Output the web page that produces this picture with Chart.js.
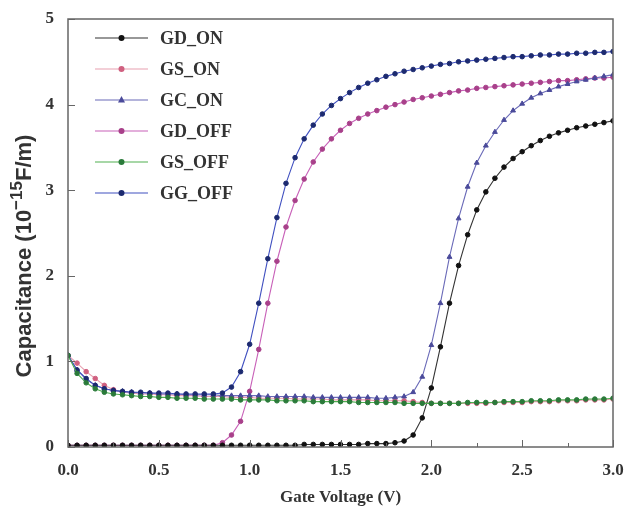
<!DOCTYPE html>
<html>
<head>
<meta charset="utf-8">
<script src="https://cdn.jsdelivr.net/npm/chart.js@4.4.0/dist/chart.umd.min.js"></script>
<style>
  html, body { margin: 0; padding: 0; background: #fff; }
  canvas { display: block; }
</style>
</head>
<body>
<canvas id="c" width="624" height="514"></canvas>
<script>
// ---- Data ----
const gateVoltage = [0.00,0.05,0.10,0.15,0.20,0.25,0.30,0.35,0.40,0.45,0.50,0.55,0.60,0.65,0.70,0.75,0.80,0.85,0.90,0.95,
  1.00,1.05,1.10,1.15,1.20,1.25,1.30,1.35,1.40,1.45,1.50,1.55,1.60,1.65,1.70,1.75,1.80,1.85,1.90,1.95,
  2.00,2.05,2.10,2.15,2.20,2.25,2.30,2.35,2.40,2.45,2.50,2.55,2.60,2.65,2.70,2.75,2.80,2.85,2.90,2.95,3.00];

const GD_ON = [0.02,0.02,0.02,0.02,0.02,0.02,0.02,0.02,0.02,0.02,0.02,0.02,0.02,0.02,0.02,0.02,0.02,0.02,0.02,0.02,
  0.02,0.02,0.02,0.02,0.02,0.02,0.03,0.03,0.03,0.03,0.03,0.03,0.03,0.04,0.04,0.04,0.05,0.07,0.14,0.34,
  0.69,1.17,1.68,2.12,2.48,2.77,2.98,3.14,3.27,3.37,3.45,3.52,3.58,3.63,3.67,3.70,3.73,3.75,3.77,3.79,3.81];

const GS_ON = [1.07,0.98,0.88,0.80,0.72,0.67,0.64,0.63,0.62,0.62,0.61,0.61,0.60,0.60,0.60,0.59,0.59,0.59,0.58,0.58,
  0.58,0.57,0.57,0.57,0.57,0.56,0.56,0.56,0.56,0.55,0.55,0.55,0.55,0.55,0.54,0.54,0.54,0.54,0.53,0.52,
  0.51,0.51,0.51,0.51,0.51,0.51,0.51,0.52,0.52,0.52,0.52,0.53,0.53,0.53,0.54,0.54,0.54,0.55,0.55,0.55,0.56];

const GC_ON = [1.07,0.90,0.79,0.72,0.68,0.66,0.65,0.64,0.63,0.63,0.62,0.62,0.62,0.61,0.61,0.61,0.61,0.60,0.60,0.60,
  0.60,0.60,0.59,0.59,0.59,0.59,0.59,0.58,0.58,0.58,0.58,0.58,0.58,0.58,0.57,0.57,0.58,0.59,0.64,0.82,
  1.19,1.68,2.22,2.67,3.04,3.32,3.52,3.68,3.82,3.93,4.01,4.08,4.13,4.17,4.21,4.24,4.27,4.29,4.31,4.33,4.35];

const GD_OFF = [0.02,0.02,0.02,0.02,0.02,0.02,0.02,0.02,0.02,0.02,0.02,0.02,0.02,0.02,0.02,0.02,0.02,0.05,0.14,0.30,
  0.65,1.14,1.68,2.17,2.57,2.88,3.13,3.33,3.48,3.60,3.70,3.78,3.84,3.89,3.93,3.97,4.00,4.03,4.06,4.08,
  4.10,4.12,4.14,4.16,4.17,4.19,4.20,4.21,4.22,4.23,4.24,4.25,4.26,4.27,4.28,4.28,4.29,4.30,4.31,4.31,4.32];

const GS_OFF = [1.07,0.86,0.75,0.68,0.64,0.62,0.61,0.60,0.59,0.59,0.58,0.58,0.57,0.57,0.57,0.56,0.56,0.56,0.56,0.55,
  0.55,0.55,0.55,0.54,0.54,0.54,0.54,0.53,0.53,0.53,0.53,0.53,0.52,0.52,0.52,0.52,0.52,0.51,0.51,0.51,
  0.51,0.51,0.51,0.51,0.52,0.52,0.52,0.52,0.53,0.53,0.53,0.54,0.54,0.54,0.55,0.55,0.55,0.56,0.56,0.56,0.57];

const GG_OFF = [1.07,0.90,0.80,0.72,0.68,0.66,0.65,0.64,0.64,0.63,0.63,0.63,0.62,0.62,0.62,0.62,0.62,0.63,0.70,0.88,
  1.20,1.68,2.20,2.68,3.08,3.38,3.60,3.76,3.89,3.99,4.07,4.14,4.20,4.25,4.29,4.33,4.36,4.39,4.41,4.43,
  4.45,4.47,4.48,4.50,4.51,4.52,4.53,4.54,4.55,4.56,4.56,4.57,4.58,4.58,4.59,4.59,4.60,4.60,4.61,4.61,4.62];

const seriesNames = ['GD_ON','GS_ON','GC_ON','GD_OFF','GS_OFF','GG_OFF'];
const xTickLabels = ['0.0','0.5','1.0','1.5','2.0','2.5','3.0'];
const yTickLabels = ['0','1','2','3','4','5'];

// ---- Styles ----
const seriesStyle = [
  { data: GD_ON,  line: '#333333', fill: '#111111', point: 'circle',   order: 1 },
  { data: GS_ON,  line: '#e8a0b0', fill: '#d06080', point: 'circle',   order: 5 },
  { data: GC_ON,  line: '#6a6ab8', fill: '#4a4a9a', point: 'triangle', order: 2 },
  { data: GD_OFF, line: '#c860b8', fill: '#a8408a', point: 'circle',   order: 3 },
  { data: GS_OFF, line: '#50b050', fill: '#2a7a3a', point: 'circle',   order: 0 },
  { data: GG_OFF, line: '#4050c0', fill: '#1c2a70', point: 'circle',   order: 1 }
];

const datasets = seriesNames.map((name, i) => {
  const s = seriesStyle[i];
  return {
    label: name,
    data: gateVoltage.map((v, k) => ({ x: v, y: s.data[k] })),
    borderColor: s.line,
    backgroundColor: s.fill,
    pointBorderColor: s.fill,
    pointBackgroundColor: s.fill,
    pointStyle: s.point,
    pointRadius: s.point === 'triangle' ? 2.8 : 2.3,
    pointBorderWidth: 1,
    borderWidth: 1.1,
    tension: 0,
    order: s.order
  };
});

const SERIF = '"Liberation Serif", "Times New Roman", serif';
const SANS = '"Liberation Sans", Arial, sans-serif';

const decorPlugin = {
  id: 'decor',
  afterDraw(chart) {
    const ctx = chart.ctx;
    const a = chart.chartArea;
    const xs = chart.scales.x, ys = chart.scales.y;
    ctx.save();
    // frame
    ctx.strokeStyle = '#666';
    ctx.lineWidth = 1.5;
    ctx.strokeRect(a.left, a.top, a.right - a.left, a.bottom - a.top);
    // inward ticks
    ctx.lineWidth = 1;
    ctx.strokeStyle = '#666';
    for (let v = 0; v <= 3.0001; v += 0.25) {
      const px = Math.round(xs.getPixelForValue(v)) + 0.5;
      const major = Math.abs(v / 0.5 - Math.round(v / 0.5)) < 1e-6;
      ctx.beginPath();
      ctx.moveTo(px, a.bottom);
      ctx.lineTo(px, a.bottom - (major ? 7 : 4));
      ctx.stroke();
    }
    for (let v = 0; v <= 5.0001; v += 1) {
      const py = Math.round(ys.getPixelForValue(v)) + 0.5;
      ctx.beginPath();
      ctx.moveTo(a.left, py);
      ctx.lineTo(a.left + 7, py);
      ctx.stroke();
    }
    // legend inside plot
    const x0 = 95, x1 = 148, tx = 160;
    chart.data.datasets.forEach((ds, i) => {
      const y = 38 + i * 31;
      ctx.strokeStyle = ds.borderColor;
      ctx.lineWidth = 1.2;
      ctx.beginPath();
      ctx.moveTo(x0, y);
      ctx.lineTo(x1, y);
      ctx.stroke();
      const cx = (x0 + x1) / 2;
      ctx.fillStyle = ds.pointBackgroundColor;
      ctx.beginPath();
      if (ds.pointStyle === 'triangle') {
        ctx.moveTo(cx, y - 4);
        ctx.lineTo(cx + 3.5, y + 2.5);
        ctx.lineTo(cx - 3.5, y + 2.5);
        ctx.closePath();
      } else {
        ctx.arc(cx, y, 3, 0, Math.PI * 2);
      }
      ctx.fill();
      ctx.fillStyle = '#333';
      ctx.font = 'bold 18px ' + SERIF;
      ctx.textBaseline = 'middle';
      ctx.textAlign = 'left';
      ctx.fillText(ds.label, tx, y + 1);
    });
    // y-axis title with superscript
    ctx.translate(22, 256);
    ctx.rotate(-Math.PI / 2);
    const main1 = 'Capacitance (10';
    const sup = '\u221215';
    const main2 = 'F/m)';
    ctx.fillStyle = '#333';
    ctx.textBaseline = 'middle';
    ctx.textAlign = 'left';
    ctx.font = 'bold 22px ' + SANS;
    const w1 = ctx.measureText(main1).width;
    const w3 = ctx.measureText(main2).width;
    ctx.font = 'bold 17px ' + SANS;
    const w2 = ctx.measureText(sup).width;
    const total = w1 + w2 + w3;
    let sx = -total / 2;
    ctx.font = 'bold 22px ' + SANS;
    ctx.fillText(main1, sx, 3);
    sx += w1;
    ctx.font = 'bold 17px ' + SANS;
    ctx.fillText(sup, sx, -5);
    sx += w2;
    ctx.font = 'bold 22px ' + SANS;
    ctx.fillText(main2, sx, 3);
    ctx.restore();
  }
};

new Chart(document.getElementById('c'), {
  type: 'line',
  data: { datasets },
  options: {
    responsive: false,
    animation: false,
    devicePixelRatio: 1,
    layout: { padding: { left: 0, right: 11, top: 19, bottom: 0 } },
    plugins: { legend: { display: false }, tooltip: { enabled: false } },
    scales: {
      x: {
        type: 'linear',
        min: 0, max: 3,
        afterFit: s => { s.height = 67; s.paddingRight = 0; s.paddingLeft = 0; },
        afterBuildTicks: s => { s.ticks = xTickLabels.map(t => ({ value: parseFloat(t) })); },
        ticks: {
          padding: 5,
          color: '#333',
          font: { family: SERIF, size: 17, weight: 'bold' },
          maxRotation: 0,
          autoSkip: false,
          callback: (v) => xTickLabels.find(t => Math.abs(parseFloat(t) - v) < 1e-6)
        },
        grid: { display: false },
        border: { display: false },
        title: {
          display: true,
          text: 'Gate Voltage (V)',
          color: '#333',
          font: { family: SERIF, size: 17, weight: 'bold' },
          padding: { top: 0, bottom: 6 }
        }
      },
      y: {
        type: 'linear',
        min: 0, max: 5,
        afterFit: s => { s.width = 68; },
        afterBuildTicks: s => { s.ticks = yTickLabels.map(t => ({ value: parseFloat(t) })); },
        ticks: {
          padding: 6,
          color: '#333',
          font: { family: SERIF, size: 17, weight: 'bold' },
          callback: (v) => yTickLabels.find(t => Math.abs(parseFloat(t) - v) < 1e-6)
        },
        grid: { display: false },
        border: { display: false }
      }
    }
  },
  plugins: [decorPlugin]
});
</script>
</body>
</html>
